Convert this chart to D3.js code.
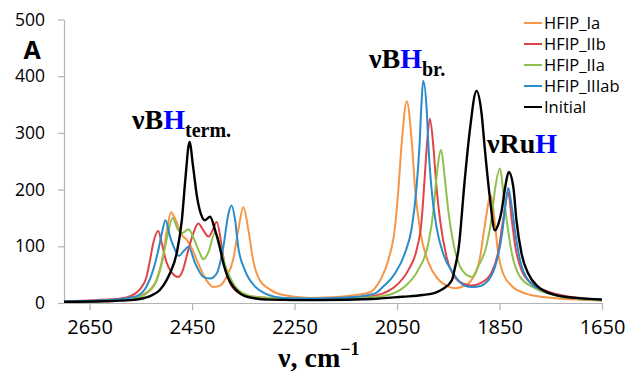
<!DOCTYPE html>
<html>
<head>
<meta charset="utf-8">
<script src="https://cdn.jsdelivr.net/npm/d3@7"></script>
<style>
  body { margin: 0; background: #fff; }
  .tick text { font-family: "Open Sans", sans-serif; fill: #000; }
</style>
</head>
<body>
<div id="chart"></div>
<script>
// wavenumber (cm-1), absorbance
var hfipIa = [[2700,3],[2620,5],[2560,11],[2540,18],[2520,40],[2506,88],[2498,135],[2491,160],[2483,148],[2470,120],[2460,111],[2450,96],[2440,74],[2422,40],[2408,28],[2395,31],[2383,46],[2370,76],[2360,128],[2350,169],[2340,128],[2331,76],[2318,40],[2300,25],[2272,14],[2220,9],[2180,10],[2130,14],[2103,19],[2083,40],[2067,76],[2054,134],[2048,193],[2041,281],[2031,356],[2021,281],[2015,204],[2005,128],[1989,72],[1970,42],[1950,29],[1935,26],[1920,30],[1905,40],[1888,81],[1879,135],[1867,190],[1859,140],[1853,90],[1843,52],[1826,30],[1800,17],[1760,10],[1700,6],[1650,4]];
var hfipIIb = [[2700,3],[2640,5],[2590,8],[2571,12],[2552,24],[2539,46],[2532,76],[2526,105],[2516,127],[2509,105],[2500,72],[2490,54],[2477,46],[2468,58],[2461,81],[2448,122],[2438,140],[2428,128],[2418,117],[2410,128],[2402,143],[2392,99],[2386,64],[2376,35],[2357,17],[2320,10],[2250,7],[2150,9],[2100,12],[2080,16],[2054,29],[2028,58],[2012,93],[2002,146],[1996,222],[1992,275],[1986,325],[1979,275],[1973,204],[1966,146],[1953,80],[1937,45],[1921,34],[1905,31],[1885,36],[1866,53],[1853,88],[1843,146],[1833,195],[1826,146],[1819,99],[1807,58],[1788,35],[1761,22],[1720,12],[1680,8],[1650,6]];
var hfipIIa = [[2700,3],[2620,4],[2565,8],[2539,17],[2519,40],[2509,70],[2500,111],[2488,150],[2478,130],[2470,123],[2457,130],[2445,110],[2435,88],[2428,77],[2418,90],[2405,125],[2395,100],[2385,65],[2370,35],[2350,17],[2320,10],[2250,7],[2150,8],[2100,10],[2067,14],[2035,29],[2009,58],[1989,105],[1979,163],[1973,222],[1964,270],[1957,222],[1950,163],[1940,105],[1927,64],[1915,50],[1904,46],[1892,64],[1876,99],[1866,146],[1859,199],[1849,237],[1843,199],[1836,146],[1826,88],[1810,46],[1781,26],[1740,13],[1700,8],[1650,5]];
var hfipIIIab = [[2700,3],[2620,5],[2580,8],[2558,12],[2539,29],[2526,58],[2516,93],[2509,123],[2502,146],[2493,117],[2483,93],[2476,83],[2466,92],[2457,99],[2444,70],[2428,46],[2415,43],[2402,52],[2389,99],[2379,158],[2373,172],[2366,146],[2360,99],[2347,58],[2327,29],[2308,17],[2270,9],[2200,8],[2140,10],[2093,17],[2077,29],[2054,52],[2035,87],[2021,134],[2012,204],[2006,281],[2002,357],[1999,392],[1992,339],[1989,281],[1983,204],[1973,134],[1960,87],[1940,52],[1921,32],[1905,28],[1892,29],[1872,40],[1855,76],[1845,122],[1839,169],[1833,203],[1826,169],[1819,122],[1810,76],[1794,40],[1768,23],[1730,12],[1690,8],[1650,6]];
var initial = [[2700,2],[2620,3],[2570,5],[2552,7],[2530,13],[2513,23],[2500,40],[2493,53],[2480,88],[2470,146],[2463,220],[2455,284],[2448,240],[2440,185],[2432,155],[2425,146],[2415,152],[2405,128],[2395,95],[2389,70],[2380,45],[2370,29],[2355,16],[2343,11],[2300,6],[2200,5],[2100,7],[2040,11],[2000,14],[1976,18],[1960,25],[1943,40],[1937,62],[1930,95],[1918,216],[1908,304],[1895,374],[1885,334],[1879,275],[1869,187],[1859,128],[1852,140],[1846,162],[1839,204],[1832,231],[1823,204],[1817,146],[1807,87],[1794,52],[1775,29],[1740,14],[1700,9],[1650,6]];

var seriesNames = ["HFIP_Ia", "HFIP_IIb", "HFIP_IIa", "HFIP_IIIab", "Initial"];
var seriesData = [hfipIa, hfipIIb, hfipIIa, hfipIIIab, initial];
var colors = ["#f79646", "#e04446", "#8fc04e", "#2a8ccc", "#000000"];
var xTicks = [2650, 2450, 2250, 2050, 1850, 1650];
var yTicks = [0, 100, 200, 300, 400, 500];

var width = 628, height = 375;
var plotLeft = 64, plotRight = 602, plotTop = 19.5, plotBottom = 303;

var svg = d3.select("#chart").append("svg")
  .attr("width", width)
  .attr("height", height);

var x = d3.scaleLinear().domain([2700, 1650]).range([plotLeft, plotRight]);
var y = d3.scaleLinear().domain([0, 500]).range([plotBottom, plotTop]);

// axes
var xAxis = svg.append("g")
  .attr("transform", "translate(0," + plotBottom + ")")
  .call(d3.axisBottom(x).tickValues(xTicks).tickSize(7).tickSizeOuter(0).tickPadding(10).tickFormat(d3.format("d")));
xAxis.selectAll("text").style("font-size", "20px");

var yAxis = svg.append("g")
  .attr("transform", "translate(" + plotLeft + ",0)")
  .call(d3.axisLeft(y).tickValues(yTicks).tickSize(6).tickSizeOuter(0).tickPadding(13));
yAxis.selectAll("text").style("font-size", "17.5px");

svg.selectAll(".domain, .tick line").attr("stroke", "#b3b3b3").attr("stroke-width", 1.2);

// spectra
var line = d3.line()
  .x(function (d) { return x(d[0]); })
  .y(function (d) { return y(d[1]); })
  .curve(d3.curveMonotoneX);

svg.selectAll(".spec")
  .data(seriesData)
  .enter().append("path")
  .attr("class", "spec")
  .attr("fill", "none")
  .attr("stroke", function (d, i) { return colors[i]; })
  .attr("stroke-width", function (d, i) { return i == 4 ? 2.4 : 2; })
  .attr("d", line);

// legend
var legend = svg.selectAll(".leg")
  .data(seriesNames)
  .enter().append("g")
  .attr("class", "leg")
  .attr("transform", function (d, i) { return "translate(524," + (23 + i * 21) + ")"; });
legend.append("line")
  .attr("x1", 0).attr("x2", 18)
  .attr("stroke", function (d, i) { return colors[i]; })
  .attr("stroke-width", 2);
legend.append("text")
  .attr("x", 20).attr("dy", "0.35em")
  .style("font-family", "'Open Sans', sans-serif")
  .style("font-size", "16.5px")
  .text(function (d) { return d; });

// axis titles
svg.append("text")
  .attr("x", 32).attr("y", 59)
  .attr("text-anchor", "middle")
  .style("font-family", "'Open Sans', sans-serif")
  .style("font-weight", "bold")
  .style("font-size", "25px")
  .text("A");

var xt = svg.append("text")
  .attr("x", 278).attr("y", 367)
  .style("font-family", "'Liberation Serif', serif")
  .style("font-weight", "bold")
  .style("font-size", "28px");
xt.append("tspan").text("ν, cm");
xt.append("tspan").attr("dy", -12).style("font-size", "18px").text("−1");

// band labels
function band(px, py, main, sub) {
  var t = svg.append("text")
    .attr("x", px).attr("y", py)
    .style("font-family", "'Liberation Serif', serif")
    .style("font-weight", "bold")
    .style("font-size", "28px");
  t.append("tspan").text(main);
  t.append("tspan").attr("fill", "#0000ff").text("H");
  if (sub) t.append("tspan").attr("dy", 8).style("font-size", "20px").text(sub);
}
band(132, 129, "νB", "term.");
band(369, 68, "νB", "br.");
band(487, 153, "νRu", null);
</script>
</body>
</html>
